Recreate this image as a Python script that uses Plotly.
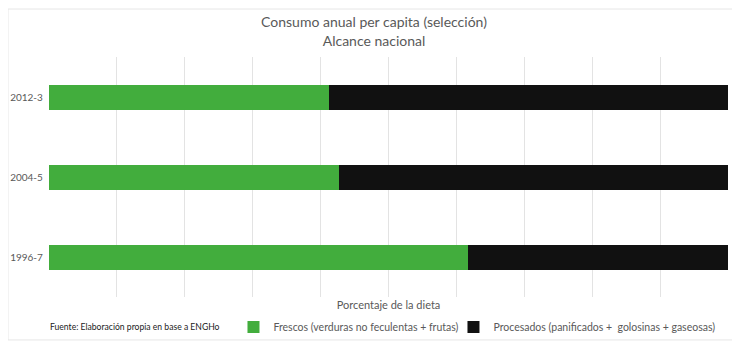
import plotly.graph_objects as go

periods = ["1996-7", "2004-5", "2012-3"]
frescos = [61.7, 42.7, 41.3]
procesados = [38.3, 57.3, 58.7]

title_line1 = "Consumo anual per capita (selección)"
title_line2 = "Alcance nacional"
x_title = "Porcentaje de la dieta"
source_note = "Fuente: Elaboración propia en base a ENGHo"
name_frescos = "Frescos (verduras no feculentas + frutas)"
name_procesados = "Procesados (panificados +  golosinas + gaseosas)"

FONT = "Lato, Open Sans, sans-serif"
GREY = "#595959"

fig = go.Figure()
fig.add_trace(go.Bar(y=periods, x=frescos, orientation="h", name=name_frescos,
                     marker=dict(color="#42ad3d", line=dict(width=0)), legend="legend"))
fig.add_trace(go.Bar(y=periods, x=procesados, orientation="h", name=name_procesados,
                     marker=dict(color="#111111", line=dict(width=0)), legend="legend2"))

legend_common = dict(orientation="h", y=-0.125, yanchor="middle", xanchor="left",
                     font=dict(size=10.5, color=GREY, family=FONT),
                     itemwidth=30, bgcolor="rgba(0,0,0,0)", borderwidth=0)

# The page body has an 8px margin, so the figure is sized to the visible area.
fig.update_layout(
    width=732, height=339,
    barmode="stack",
    bargap=0.6875,
    paper_bgcolor="white", plot_bgcolor="white",
    margin=dict(l=41, r=12, t=49, b=50, autoexpand=False),
    font=dict(family=FONT, color=GREY),
    title=dict(text=title_line1 + "<br>" + title_line2, x=0.5, xanchor="center",
               y=0.9425, yanchor="middle", font=dict(size=14, color=GREY, family=FONT)),
    xaxis=dict(range=[0, 100], dtick=10, showgrid=True, gridcolor="#e3e3e3", gridwidth=1,
               showticklabels=False, zeroline=False, showline=False, ticks="",
               title=dict(text=x_title, font=dict(size=11, color=GREY), standoff=4)),
    yaxis=dict(type="category", showgrid=False, zeroline=False, showline=False, ticks="",
               tickfont=dict(size=10, color=GREY), ticksuffix="  ", automargin=False),
    legend=dict(x=0.2717, **legend_common),
    legend2=dict(x=0.5957, **legend_common),
    showlegend=True,
)

fig.add_annotation(text=source_note, xref="paper", yref="paper", x=-0.001, y=-0.125,
                   xanchor="left", yanchor="middle", showarrow=False,
                   font=dict(size=8.6, color="#222222", family=FONT))

fig.add_shape(type="rect", xref="paper", yref="paper", x0=-0.0604, x1=1.0074,
              y0=-0.179, y1=1.2, line=dict(color="#e6e6e6", width=1), layer="below")

fig.write_html("out.html")
